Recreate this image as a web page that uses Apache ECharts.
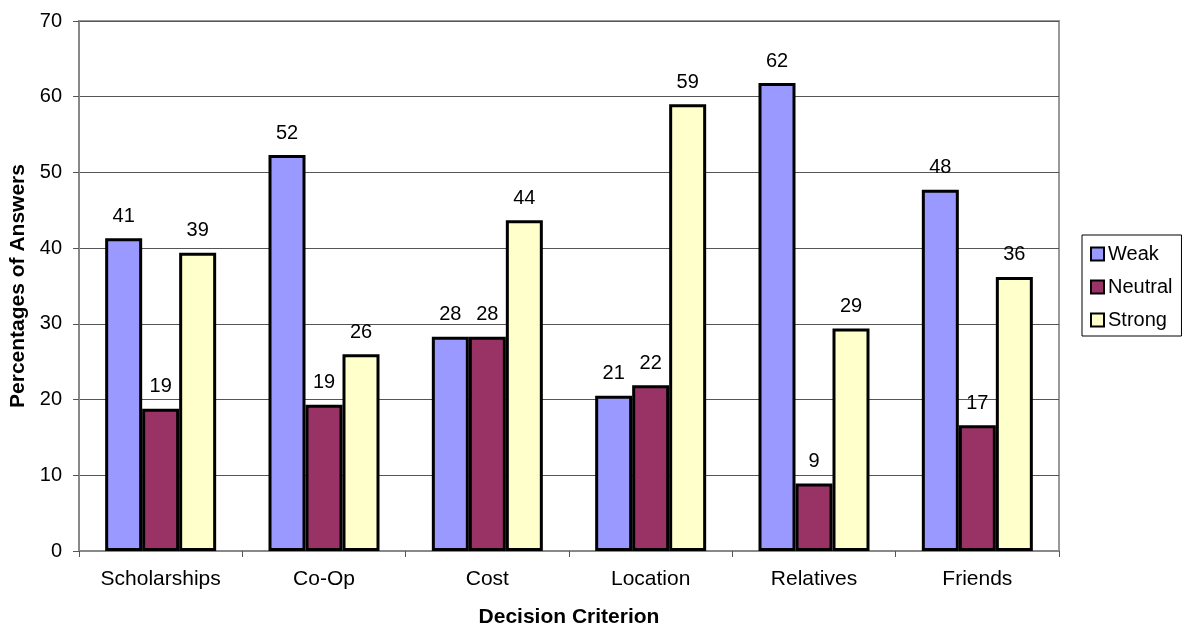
<!DOCTYPE html>
<html>
<head>
<meta charset="utf-8">
<script src="https://cdn.jsdelivr.net/npm/echarts@6/dist/echarts.min.js"></script>
<style>html,body{margin:0;padding:0;background:#fff;}#c{width:1186px;height:629px;}</style>
</head>
<body>
<div id="c"></div>
<script>
const categories = ['Scholarships', 'Co-Op', 'Cost', 'Location', 'Relatives', 'Friends'];
const weak = [41.3, 52.3, 28.3, 20.5, 61.8, 47.7];
const neutral = [18.8, 19.3, 28.3, 21.9, 8.9, 16.6];
const strong = [39.4, 26.0, 43.7, 59.0, 29.4, 36.2];
const yTicks = { min: 0, max: 70, interval: 10 };

const font = 'Liberation Sans, Arial, sans-serif';
const chart = echarts.init(document.getElementById('c'), null, { renderer: 'canvas' });

function mkSeries(name, data, color) {
  return {
    name: name,
    type: 'bar',
    data: data,
    barGap: '0%',
    barWidth: 37,
    itemStyle: { color: color, borderColor: '#000', borderWidth: 3 },
    label: {
      show: true,
      position: 'top',
      distance: 12,
      color: '#000',
      fontFamily: font,
      fontSize: 20,
      formatter: p => Math.round(p.value)
    }
  };
}

chart.setOption({
  animation: false,
  backgroundColor: '#fff',
  grid: { left: 79, right: 127, top: 21, bottom: 78, containLabel: false, outerBoundsMode: 'none', show: true, borderColor: '#999', borderWidth: 2, backgroundColor: 'transparent' },
  legend: {
    orient: 'vertical',
    left: 1082,
    top: 235,
    padding: [9, 9, 6, 8],
    itemGap: 13,
    itemWidth: 13,
    itemHeight: 13,
    icon: 'rect',
    borderColor: '#000',
    borderWidth: 1,
    backgroundColor: '#fff',
    itemStyle: { borderColor: '#000', borderWidth: 2 },
    textStyle: { fontFamily: font, fontSize: 20, color: '#000', padding: [0, 0, 0, -1] },
    data: ['Weak', 'Neutral', 'Strong']
  },
  xAxis: {
    type: 'category',
    data: categories,
    name: 'Decision Criterion',
    nameLocation: 'middle',
    nameGap: 56,
    nameTextStyle: { fontFamily: font, fontSize: 21, fontWeight: 'bold', color: '#000' },
    axisLine: { lineStyle: { color: '#888', width: 2 } },
    axisTick: { show: true, length: 6, lineStyle: { color: '#555' } },
    axisLabel: { fontFamily: font, fontSize: 21, color: '#000', margin: 18 }
  },
  yAxis: {
    type: 'value',
    min: yTicks.min,
    max: yTicks.max,
    interval: yTicks.interval,
    name: 'Percentages of Answers',
    nameLocation: 'middle',
    nameGap: 50,
    nameTextStyle: { fontFamily: font, fontSize: 21, fontWeight: 'bold', color: '#000' },
    axisLine: { show: true, lineStyle: { color: '#888', width: 2 } },
    axisTick: { show: true, length: 6, lineStyle: { color: '#555' } },
    axisLabel: { fontFamily: font, fontSize: 20, color: '#000', margin: 17 },
    splitLine: { show: true, lineStyle: { color: '#555', width: 1 } }
  },
  series: [
    mkSeries('Weak', weak, '#9999FF'),
    mkSeries('Neutral', neutral, '#993366'),
    mkSeries('Strong', strong, '#FFFFCC')
  ]
});
</script>
</body>
</html>
